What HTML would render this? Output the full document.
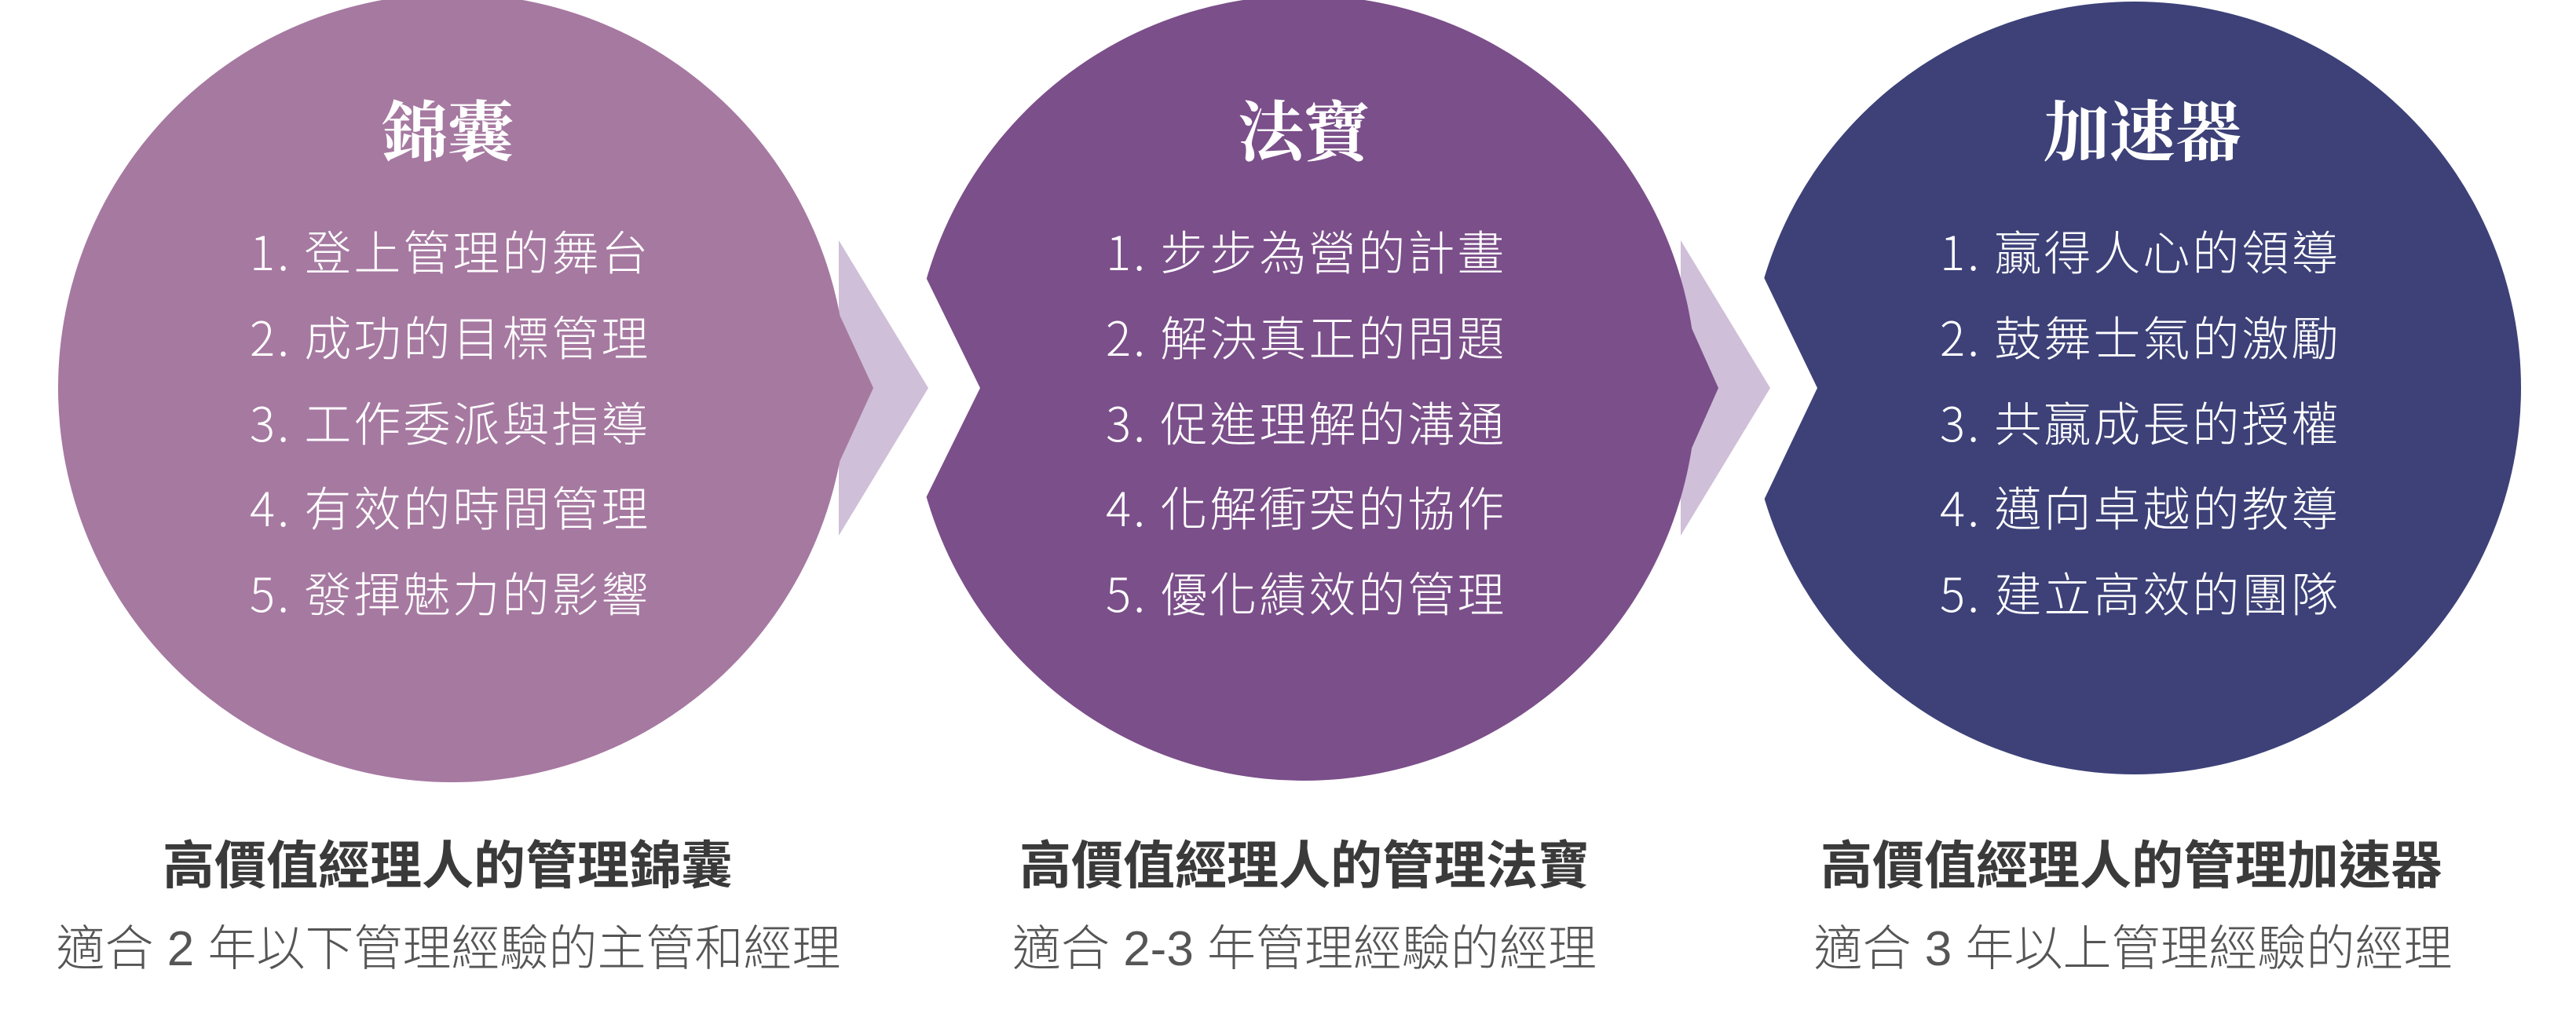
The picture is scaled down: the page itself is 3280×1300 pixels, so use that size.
<!DOCTYPE html>
<html><head><meta charset="utf-8"><style>
html,body{margin:0;padding:0;background:#fff;}
svg{display:block}
.t{font-family:"Liberation Serif","Noto Serif CJK SC",serif;font-weight:700;font-size:84px;fill:#fff;text-anchor:middle}
.l{font-family:"Noto Sans CJK TC",sans-serif;font-weight:300;font-size:60px;fill:#fff;letter-spacing:3px}
.c{font-family:"Liberation Sans","Noto Sans CJK TC",sans-serif;font-weight:700;font-size:66px;fill:#3a3a3a;text-anchor:middle}
.s{font-family:"Liberation Sans","Noto Sans CJK TC",sans-serif;font-weight:300;font-size:62px;fill:#555;text-anchor:middle}
</style></head><body>
<svg width="3280" height="1300" viewBox="0 0 3280 1300" xmlns="http://www.w3.org/2000/svg">
<polygon points="1068,306 1182,494 1068,682" fill="#CFBFD8"/>
<polygon points="2140,306 2254,494 2140,682" fill="#CFBFD8"/>
<circle cx="576" cy="494" r="502" fill="#A679A1"/>
<polygon points="990,230 1112,494 990,760" fill="#A679A1"/>
<clipPath id="cm"><polygon points="1100,-10 2300,-10 2300,1300 1100,1300 1100,1010 1175,1010 1175,642 1248,494 1175,345 1175,-10"/></clipPath>
<circle cx="1660" cy="494" r="500" fill="#7B4F8A" clip-path="url(#cm)"/>
<polygon points="2070,230 2188,494 2070,760" fill="#7B4F8A"/>
<clipPath id="cr"><polygon points="2200,-10 3280,-10 3280,1300 2200,1300 2200,1010 2242,1010 2242,645 2314,494 2242,345 2242,-10"/></clipPath>
<circle cx="2718" cy="494" r="492" fill="#3D4178" clip-path="url(#cr)"/>

<text class="t" x="570" y="198">錦囊</text>
<text class="t" x="1660" y="198">法寶</text>
<text class="t" x="2728" y="198">加速器</text>

<g class="l">
<text x="318" y="344">1. 登上管理的舞台</text>
<text x="318" y="453">2. 成功的目標管理</text>
<text x="318" y="562">3. 工作委派與指導</text>
<text x="318" y="670">4. 有效的時間管理</text>
<text x="318" y="779">5. 發揮魅力的影響</text>
</g>
<g class="l">
<text x="1408" y="344">1. 步步為營的計畫</text>
<text x="1408" y="453">2. 解決真正的問題</text>
<text x="1408" y="562">3. 促進理解的溝通</text>
<text x="1408" y="670">4. 化解衝突的協作</text>
<text x="1408" y="779">5. 優化績效的管理</text>
</g>
<g class="l">
<text x="2470" y="344">1. 贏得人心的領導</text>
<text x="2470" y="453">2. 鼓舞士氣的激勵</text>
<text x="2470" y="562">3. 共贏成長的授權</text>
<text x="2470" y="670">4. 邁向卓越的教導</text>
<text x="2470" y="779">5. 建立高效的團隊</text>
</g>

<text class="c" x="570" y="1125">高價值經理人的管理錦囊</text>
<text class="c" x="1661" y="1125">高價值經理人的管理法寶</text>
<text class="c" x="2714" y="1125">高價值經理人的管理加速器</text>
<text class="s" x="571" y="1229">適合 2 年以下管理經驗的主管和經理</text>
<text class="s" x="1661" y="1229">適合 2-3 年管理經驗的經理</text>
<text class="s" x="2716" y="1229">適合 3 年以上管理經驗的經理</text>
</svg>
</body></html>
